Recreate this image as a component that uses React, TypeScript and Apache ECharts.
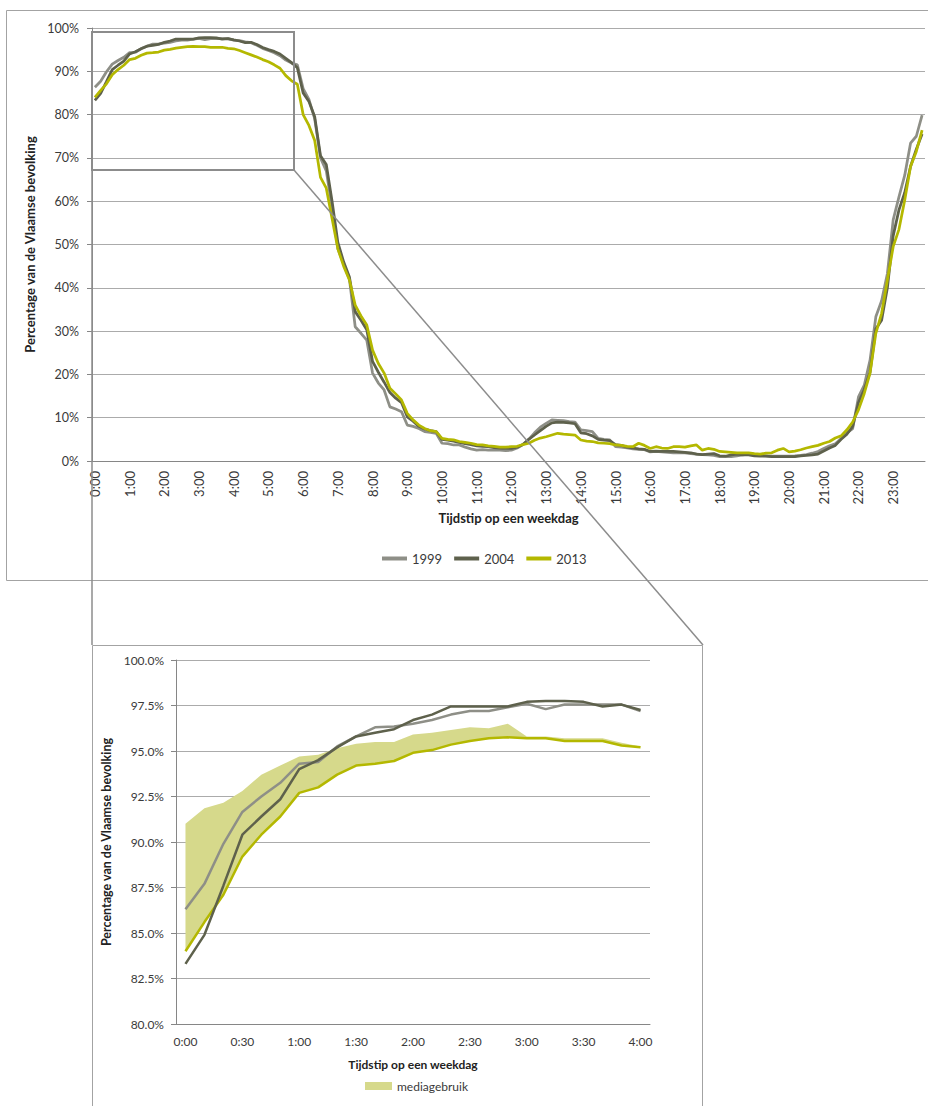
import React, { useEffect, useRef } from "react";
import * as echarts from "echarts";

// 10-minute slots over a weekday (0:00 .. 23:50)
const timeLabels: string[] = Array.from({ length: 144 }, (_, i) => `${Math.floor(i / 6)}:${String((i % 6) * 10).padStart(2, "0")}`);

const s1999: number[] = [
  86.3, 87.7, 89.9, 91.65, 92.5, 93.25, 94.3, 94.4, 95.25, 95.8, 96.3, 96.35, 96.5, 96.7, 97.0, 97.2, 97.2, 97.4, 97.6, 97.3, 97.55, 97.55, 97.55, 97.55,
  97.2, 97.1, 96.8, 96.6, 96.0, 95.3, 94.8, 94.3, 93.6, 92.6, 91.9, 91.5,
  86.0, 83.5, 79.0, 70.0, 67.0, 58.5, 49.0, 45.5, 42.0, 31.0, 29.5, 27.9,
  20.3, 18.0, 16.4, 12.5, 12.0, 11.4, 8.3, 8.0, 7.5, 6.8, 6.6, 6.4,
  4.1, 4.0, 3.7, 3.7, 3.2, 2.8, 2.5, 2.6, 2.5, 2.5, 2.5, 2.4,
  2.5, 3.0, 3.8, 5.0, 6.5, 7.8, 8.7, 9.5, 9.4, 9.3, 9.1, 9.0,
  7.2, 7.0, 6.8, 5.2, 5.0, 4.9, 3.3, 3.2, 3.0, 2.8, 2.7, 2.6,
  2.1, 2.2, 2.1, 2.0, 1.9, 1.9, 1.9, 1.7, 1.6, 1.5, 1.4, 1.3,
  1.0, 1.0, 1.0, 1.2, 1.4, 1.6, 1.5, 1.3, 1.2, 1.1, 1.15, 1.15,
  1.15, 1.2, 1.3, 1.5, 1.8, 2.2, 2.9, 3.5, 4.0, 5.2, 6.5, 7.5,
  14.8, 17.5, 23.3, 33.3, 37.0, 43.3, 55.7, 61.0, 66.0, 73.4, 75.0, 79.9,
];

const s2004: number[] = [
  83.3, 84.9, 87.6, 90.4, 91.4, 92.35, 94.0, 94.5, 95.2, 95.8, 96.0, 96.2, 96.7, 97.0, 97.45, 97.45, 97.45, 97.45, 97.7, 97.75, 97.75, 97.7, 97.45, 97.55,
  97.25, 97.0, 96.6, 96.7, 96.2, 95.5, 95.0, 94.6, 94.0, 93.0, 92.0, 90.8,
  85.0, 83.0, 79.5, 70.5, 68.5, 60.0, 50.5, 46.0, 42.5, 34.5, 32.5, 30.3,
  23.0, 20.5, 18.2, 15.8, 14.5, 13.5, 10.2, 9.2, 8.0, 7.4, 7.0, 6.8,
  5.0, 4.8, 4.6, 4.3, 4.0, 3.8, 3.5, 3.4, 3.3, 3.1, 3.0, 2.9,
  2.9, 3.2, 3.8, 5.0, 6.0, 7.0, 8.0, 8.8, 9.0, 8.9, 8.8, 8.6,
  6.5, 6.3, 5.8, 5.0, 4.8, 4.7, 3.8, 3.6, 3.2, 3.0, 2.8, 2.7,
  2.2, 2.3, 2.2, 2.2, 2.2, 2.1, 2.0, 1.9, 1.6, 1.5, 1.6, 1.7,
  1.2, 1.1, 1.4, 1.6, 1.4, 1.4, 1.2, 1.1, 1.1, 1.0, 1.0, 1.0,
  1.0, 1.0, 1.2, 1.3, 1.4, 1.6, 2.3, 3.0, 3.6, 5.0, 6.2, 8.0,
  13.5, 16.5, 20.5, 30.5, 32.5, 40.0, 52.0, 58.0, 62.0, 68.0, 72.0, 75.5,
];

const s2013: number[] = [
  84.0, 85.6, 87.1, 89.2, 90.4, 91.4, 92.7, 93.0, 93.7, 94.2, 94.3, 94.45, 94.9, 95.05, 95.35, 95.55, 95.7, 95.75, 95.7, 95.7, 95.55, 95.55, 95.55, 95.3,
  95.2, 94.8, 94.3, 93.8, 93.3, 92.7, 92.2, 91.5, 90.7, 89.0, 87.8, 87.0,
  80.0, 77.5, 74.0, 65.5, 63.0, 56.0, 49.0, 45.0, 41.8, 36.0, 33.5, 31.4,
  25.6, 22.5, 20.3, 16.8, 15.5, 14.1, 11.0, 9.5, 8.3, 7.5, 7.0, 6.8,
  5.2, 5.0, 4.9, 4.5, 4.3, 4.1, 3.8, 3.7, 3.5, 3.4, 3.2, 3.2,
  3.3, 3.4, 3.8, 4.1, 4.8, 5.3, 5.6, 6.0, 6.4, 6.2, 6.1, 6.0,
  4.85, 4.6, 4.5, 4.2, 4.1, 4.0, 3.7, 3.6, 3.4, 3.3, 4.1, 3.6,
  2.9, 3.3, 3.0, 2.9, 3.3, 3.3, 3.2, 3.5, 3.7, 2.5, 2.9, 2.7,
  2.2, 2.1, 2.0, 1.9, 1.9, 1.9, 1.7, 1.6, 1.8, 1.9, 2.5, 2.9,
  2.1, 2.3, 2.6, 3.0, 3.3, 3.6, 4.1, 4.5, 5.3, 5.8, 7.2, 9.0,
  11.8, 15.6, 20.3, 29.5, 34.1, 41.8, 49.5, 53.5, 60.3, 68.0, 71.5, 76.4,
];

// zoomed window 0:00 - 4:00 (25 slots)
const zoomCount = 25;
const zoomLabels = timeLabels.slice(0, zoomCount);
// upper edge of the "mediagebruik" band (its lower edge is the 2013 line)
const mediaTop: number[] = [
  91.0, 91.85, 92.15, 92.8, 93.7, 94.2, 94.7, 94.8, 95.15, 95.4, 95.5, 95.5, 95.9, 96.0, 96.15, 96.3, 96.25, 96.5, 95.8, 95.8, 95.7, 95.7, 95.7, 95.45, 95.25,
];

const C1999 = "#8e8f87";
const C2004 = "#5e614c";
const C2013 = "#b4b800";
const CMEDIA = "#d6d98b";
const TXT = "#3a3a3a";
const AXIS = "#868686";
const GRID = "#ababab";
const FONT = "Lato";

export default function App() {
  const ref = useRef<HTMLDivElement>(null);
  useEffect(() => {
    const chart = echarts.init(ref.current!, null, { renderer: "svg" });
    const zoom2013 = s2013.slice(0, zoomCount);
    const mediaBand = mediaTop.map((v, i) => +(v - zoom2013[i]).toFixed(2));
    const option: any = {
      animation: false,
      backgroundColor: "#ffffff",
      textStyle: { fontFamily: FONT, color: TXT },
      grid: [
        { left: 92, top: 28, width: 833, height: 433 },
        { left: 176, top: 660, width: 474, height: 364 },
      ],
      xAxis: [
        {
          gridIndex: 0,
          type: "category",
          data: timeLabels,
          boundaryGap: true,
          name: "Tijdstip op een weekdag",
          nameLocation: "middle",
          nameGap: 50,
          nameTextStyle: { fontFamily: FONT, fontWeight: "bold", fontSize: 13, color: "#222" },
          axisLine: { lineStyle: { color: AXIS, width: 1 } },
          axisTick: { interval: 2, length: 5, lineStyle: { color: AXIS } },
          axisLabel: { interval: 5, rotate: 90, fontSize: 13, color: TXT, fontFamily: FONT, margin: 10 },
          splitLine: { show: false },
        },
        {
          gridIndex: 1,
          type: "category",
          data: zoomLabels,
          boundaryGap: true,
          name: "Tijdstip op een weekdag",
          nameLocation: "middle",
          nameGap: 34,
          nameTextStyle: { fontFamily: FONT, fontWeight: "bold", fontSize: 12, color: "#222" },
          axisLine: { lineStyle: { color: AXIS, width: 1 } },
          axisTick: { interval: 0, length: 5, lineStyle: { color: AXIS } },
          axisLabel: { interval: 2, fontSize: 12, color: TXT, fontFamily: FONT, margin: 11 },
          splitLine: { show: false },
        },
      ],
      yAxis: [
        {
          gridIndex: 0,
          type: "value",
          min: 0,
          max: 100,
          interval: 10,
          name: "Percentage van de Vlaamse bevolking",
          nameLocation: "middle",
          nameGap: 48,
          nameRotate: 90,
          nameTextStyle: { fontFamily: FONT, fontWeight: "bold", fontSize: 13, color: "#222" },
          axisLine: { show: true, lineStyle: { color: AXIS } },
          axisTick: { show: true, length: 5, lineStyle: { color: AXIS } },
          axisLabel: { formatter: (v: number) => `${v}%`, fontSize: 12.5, color: TXT, fontFamily: FONT, margin: 13 },
          splitLine: { lineStyle: { color: GRID, width: 1 } },
        },
        {
          gridIndex: 1,
          type: "value",
          min: 80,
          max: 100,
          interval: 2.5,
          name: "Percentage van de Vlaamse bevolking",
          nameLocation: "middle",
          nameGap: 51,
          nameRotate: 90,
          nameTextStyle: { fontFamily: FONT, fontWeight: "bold", fontSize: 12.5, color: "#222" },
          axisLine: { show: true, lineStyle: { color: AXIS } },
          axisTick: { show: true, length: 5, lineStyle: { color: AXIS } },
          axisLabel: { formatter: (v: number) => `${v.toFixed(1)}%`, fontSize: 12, color: TXT, fontFamily: FONT, margin: 12 },
          splitLine: { lineStyle: { color: GRID, width: 1 } },
        },
      ],
      legend: [
        {
          data: ["1999", "2004", "2013"],
          left: 377,
          top: 547,
          icon: "rect",
          itemWidth: 25,
          itemHeight: 4,
          itemGap: 12,
          textStyle: { fontFamily: FONT, fontSize: 13, color: TXT },
        },
        {
          data: ["mediagebruik"],
          left: 360,
          top: 1075,
          icon: "rect",
          itemWidth: 27,
          itemHeight: 8,
          itemGap: 5,
          textStyle: { fontFamily: FONT, fontSize: 12, color: TXT },
        },
      ],
      series: [
        { name: "1999", type: "line", xAxisIndex: 0, yAxisIndex: 0, data: s1999, symbol: "none", color: C1999, lineStyle: { width: 2.75, color: C1999 }, z: 3 },
        { name: "2004", type: "line", xAxisIndex: 0, yAxisIndex: 0, data: s2004, symbol: "none", color: C2004, lineStyle: { width: 2.75, color: C2004 }, z: 3 },
        { name: "2013", type: "line", xAxisIndex: 0, yAxisIndex: 0, data: s2013, symbol: "none", color: C2013, lineStyle: { width: 2.75, color: C2013 }, z: 3 },
        {
          name: "2013", type: "line", xAxisIndex: 1, yAxisIndex: 1, data: zoom2013, stack: "media", symbol: "none", color: C2013,
          lineStyle: { width: 2.5, color: C2013 }, z: 4,
        },
        {
          name: "mediagebruik", type: "line", xAxisIndex: 1, yAxisIndex: 1, data: mediaBand, stack: "media", symbol: "none", color: CMEDIA,
          lineStyle: { width: 0, opacity: 0 }, areaStyle: { color: CMEDIA, opacity: 1 }, z: 2,
        },
        { name: "1999", type: "line", xAxisIndex: 1, yAxisIndex: 1, data: s1999.slice(0, zoomCount), symbol: "none", color: C1999, lineStyle: { width: 2.5, color: C1999 }, z: 4 },
        { name: "2004", type: "line", xAxisIndex: 1, yAxisIndex: 1, data: s2004.slice(0, zoomCount), symbol: "none", color: C2004, lineStyle: { width: 2.5, color: C2004 }, z: 4 },
      ],
      graphic: [
        { type: "rect", z: 1, silent: true, shape: { x: 6.5, y: 10.5, width: 940, height: 570 }, style: { fill: "none", stroke: "#a3a3a3", lineWidth: 1 } },
        { type: "rect", z: 1, silent: true, shape: { x: 92.5, y: 645.5, width: 610, height: 500 }, style: { fill: "none", stroke: "#a3a3a3", lineWidth: 1 } },
        { type: "rect", z: 20, silent: true, shape: { x: 92, y: 32, width: 202, height: 138 }, style: { fill: "none", stroke: "#8c8c8c", lineWidth: 2 } },
        { type: "line", z: 20, silent: true, shape: { x1: 92, y1: 170, x2: 92, y2: 645 }, style: { stroke: "#8c8c8c", lineWidth: 1.5 } },
        { type: "line", z: 20, silent: true, shape: { x1: 294, y1: 170, x2: 703, y2: 645 }, style: { stroke: "#8c8c8c", lineWidth: 1.5 } },
      ],
    };
    chart.setOption(option);
    return () => chart.dispose();
  }, []);
  return <div ref={ref} style={{ position: "absolute", left: 0, top: 0, width: 928, height: 1106, background: "#fff" }} />;
}
